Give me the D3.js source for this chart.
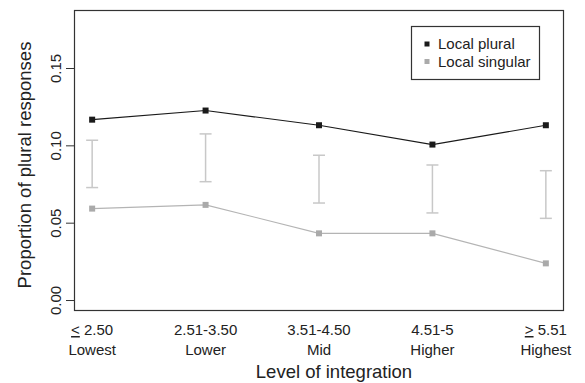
<!DOCTYPE html>
<html>
<head>
<meta charset="utf-8">
<script src="https://cdn.jsdelivr.net/npm/d3@7"></script>
<style>
  html, body { margin: 0; padding: 0; background: #fff; }
  svg { display: block; font-family: "Liberation Sans", Arial, Helvetica, sans-serif; }
</style>
</head>
<body>
<svg id="chart" width="585" height="383"></svg>
<script>
// ---- data ----
const levels = [1, 2, 3, 4, 5];
const rangeLabels = ["2.50", "2.51-3.50", "3.51-4.50", "4.51-5", "5.51"];
const rangePrefix = ["<", "", "", "", ">"];
const levelNames = ["Lowest", "Lower", "Mid", "Higher", "Highest"];
const localPlural = [0.1166, 0.1225, 0.1130, 0.1005, 0.1130];
const localSingular = [0.0591, 0.0615, 0.0431, 0.0431, 0.0237];
const errLow = [0.0727, 0.0765, 0.0627, 0.0563, 0.0528];
const errHigh = [0.1033, 0.1074, 0.0936, 0.0873, 0.0836];
const yTicks = [0.00, 0.05, 0.10, 0.15];
const seriesNames = ["Local plural", "Local singular"];

// ---- layout ----
const svg = d3.select("#chart");
const L = 74, R = 564, T = 10, B = 311;
const x = d3.scaleLinear().domain([0.84, 5.16]).range([L, R]);
const y = d3.scaleLinear().domain([-0.0071, 0.1875]).range([B, T]);

// y axis
const yAxis = svg.append("g")
  .attr("transform", `translate(${L},0)`)
  .call(d3.axisLeft(y).tickValues(yTicks).tickFormat(d3.format(".2f")).tickSize(8).tickPadding(0));
yAxis.select(".domain").remove();
yAxis.selectAll(".tick line").attr("stroke", "#333");
yAxis.selectAll(".tick text")
  .attr("x", 0).attr("dy", 0)
  .attr("transform", "translate(-13,0) rotate(-90)")
  .attr("text-anchor", "middle")
  .attr("fill", "#222")
  .style("font-size", "15px");

// error bars
const errColor = "#c8c8c8";
const eb = svg.append("g").attr("stroke", errColor).attr("stroke-width", 1.5);
levels.forEach((lv, i) => {
  eb.append("line").attr("x1", x(lv)).attr("x2", x(lv)).attr("y1", y(errLow[i])).attr("y2", y(errHigh[i]));
  eb.append("line").attr("x1", x(lv) - 6).attr("x2", x(lv) + 6).attr("y1", y(errLow[i])).attr("y2", y(errLow[i]));
  eb.append("line").attr("x1", x(lv) - 6).attr("x2", x(lv) + 6).attr("y1", y(errHigh[i])).attr("y2", y(errHigh[i]));
});

// lines
const line = d3.line().x((d, i) => x(levels[i])).y(d => y(d));
const series = [
  { name: seriesNames[0], values: localPlural, line: "#1a1a1a", mark: "#1a1a1a" },
  { name: seriesNames[1], values: localSingular, line: "#b4b4b4", mark: "#aaaaaa" }
];
series.forEach(s => {
  svg.append("path").attr("d", line(s.values)).attr("fill", "none")
    .attr("stroke", s.line).attr("stroke-width", 1.1);
  svg.append("g").selectAll("rect").data(s.values).join("rect")
    .attr("x", (d, i) => x(levels[i]) - 3).attr("y", d => y(d) - 3)
    .attr("width", 6).attr("height", 6).attr("fill", s.mark);
});

// frame
svg.append("rect").attr("x", L + 0.5).attr("y", T + 0.5)
  .attr("width", R - L - 1).attr("height", B - T - 1)
  .attr("fill", "none").attr("stroke", "#333").attr("stroke-width", 1.2);

// x labels
const xl = svg.append("g").attr("fill", "#222").style("font-size", "15px").attr("text-anchor", "middle");
levels.forEach((lv, i) => {
  const t = xl.append("text").attr("x", x(lv)).attr("y", 335);
  if (rangePrefix[i]) {
    t.append("tspan").text(rangePrefix[i]).style("text-decoration", "underline");
    t.append("tspan").text(" " + rangeLabels[i]);
  } else {
    t.text(rangeLabels[i]);
  }
  xl.append("text").attr("x", x(lv)).attr("y", 355).text(levelNames[i]);
});

// axis titles
svg.append("text").attr("x", 334).attr("y", 378).attr("text-anchor", "middle")
  .attr("fill", "#222").style("font-size", "18.5px").text("Level of integration");
svg.append("text").attr("transform", "translate(31,165) rotate(-90)").attr("text-anchor", "middle")
  .attr("fill", "#222").style("font-size", "18.5px").text("Proportion of plural responses");

// legend
const lg = svg.append("g");
lg.append("rect").attr("x", 411.5).attr("y", 26.5).attr("width", 128).attr("height", 53)
  .attr("fill", "#fff").attr("stroke", "#333").attr("stroke-width", 1.2);
series.forEach((s, i) => {
  const cy = 44 + i * 17.5;
  lg.append("rect").attr("x", 424.5).attr("y", cy - 2.5).attr("width", 5).attr("height", 5).attr("fill", s.mark);
  lg.append("text").attr("x", 438).attr("y", cy + 5.3).attr("fill", "#222").style("font-size", "15px").text(s.name);
});
</script>
</body>
</html>
